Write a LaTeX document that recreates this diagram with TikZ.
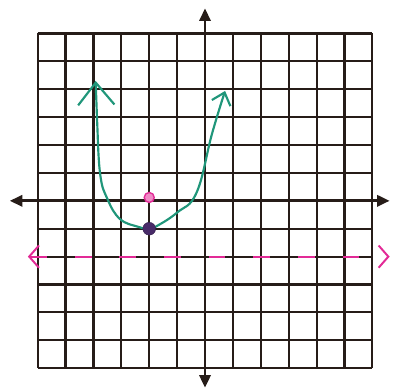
\documentclass[tikz,border=0pt]{standalone}
\usetikzlibrary{arrows.meta}
\definecolor{ink}{RGB}{38,28,24}
\definecolor{pengreen}{RGB}{32,150,122}
\definecolor{penpink}{RGB}{226,42,150}
\definecolor{penpurple}{RGB}{72,42,104}

\begin{document}
\begin{tikzpicture}[x=1cm,y=1cm]
  \useasboundingbox (-7.35,-6.74) rectangle (6.74,7.2);
  \draw[ink,line width=2.2pt] (-6,-6) grid (6,6);
  \coordinate (xleft) at (-7,0);
  \coordinate (xright) at (6.62,0);
  \coordinate (ybottom) at (0,-6.7);
  \coordinate (ytop) at (0,6.9);
  \draw[ink,line width=2.8pt,{Triangle[length=4.5mm,width=4mm]}-{Triangle[length=4.5mm,width=4mm]}] (xleft) -- (xright);
  \draw[ink,line width=2.8pt,{Triangle[length=4.5mm,width=4mm]}-{Triangle[length=4.5mm,width=4mm]}] (ybottom) -- (ytop);
  \coordinate (dleft) at (-6.35,-2);
  \coordinate (dright) at (6.62,-2);
  \draw[penpink,line width=2pt,dash pattern=on 0.6cm off 1cm,{Straight Barb[length=3.5mm,width=8mm]}-{Straight Barb[length=3.5mm,width=8mm]}] (dleft) -- (dright);
  \draw[pengreen,line width=2.2pt,{Straight Barb[length=8mm,width=13mm]}-{Straight Barb[length=4mm,width=7mm]}]
    plot[smooth,tension=0.7] coordinates {(-3.92,4.3) (-3.87,2.9) (-3.76,0.97) (-3.5,0.07) (-3.05,-0.65) (-2.4,-0.93) (-2,-1) (-1.72,-0.9) (-1.0,-0.42) (-0.3,0.3) (0.25,2.4) (0.72,3.94)};
  \node[circle,fill=penpink!55,draw=penpink,line width=1.4pt,minimum size=0.36cm,inner sep=0] (focus) at (-2,0.12) {};
  \node[circle,fill=penpurple,draw=penpurple!70!black,minimum size=0.46cm,inner sep=0] (vertex) at (-2,-1) {};
\end{tikzpicture}
\end{document}
